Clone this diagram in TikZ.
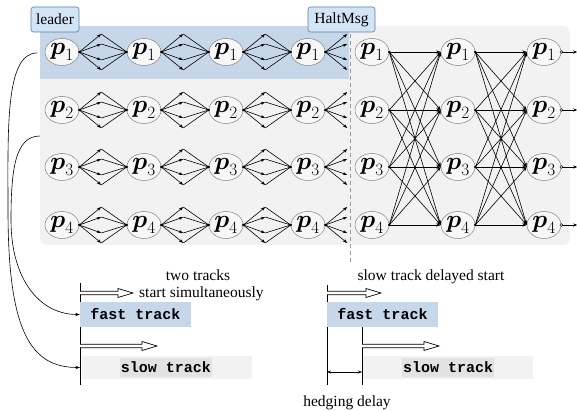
\documentclass[tikz,border=0pt]{standalone}
\usepackage{fontspec}
\usepackage{amsmath}
\setmainfont{Liberation Serif}
\setmonofont{Liberation Mono}
\usetikzlibrary{arrows.meta,shapes.geometric,calc}
\definecolor{bandblue}{HTML}{C7D7EA}
\definecolor{tagblue}{HTML}{D2E4F5}
\definecolor{tagedge}{HTML}{5E7EA0}
\definecolor{bggray}{HTML}{F2F2F2}
\definecolor{hlgray}{HTML}{E2E2E2}
\newcommand{\harrow}[3]{%
  \draw[fill=white,line width=0.7pt] (#1,#2-1.7) -- (#3-15,#2-1.7) -- (#3-15,#2-4.5) -- (#3,#2) -- (#3-15,#2+4.5) -- (#3-15,#2+1.7) -- (#1,#2+1.7);}
\begin{document}
\begin{tikzpicture}[x=1pt,y=-1pt,
  proc/.style={ellipse, draw=black!50, fill=black!3, line width=0.5pt, minimum width=34pt, minimum height=27pt, inner sep=0pt, font=\fontsize{24}{26}\selectfont},
  tag/.style={draw=tagedge, fill=tagblue, rounded corners=2.5pt, line width=0.6pt, inner sep=0pt, minimum height=25pt, font=\fontsize{15.5}{17}\selectfont},
  arr/.style={line width=0.6pt, -{Stealth[length=4.5pt,width=3.2pt]}},
  thinline/.style={line width=0.6pt},
  lbl/.style={font=\fontsize{15.5}{17}\selectfont, inner sep=0pt},
  trackbox/.style={inner sep=0pt, font=\fontsize{15}{17}\selectfont\ttfamily\bfseries},
  curv/.style={line width=0.6pt, -{Stealth[length=4.5pt,width=3.2pt]}}
]
\useasboundingbox (0,0) rectangle (577,411);
% backgrounds
\fill[bggray, rounded corners=7pt] (40,26) rectangle (570,245);
\fill[bandblue] (40,26) rectangle (349,79);
\draw[black!40, line width=1pt, dash pattern=on 4pt off 3pt] (350,27) -- (350,263);
% tags
\node[tag, minimum width=48pt] (leader) at (55,19.5) {leader};
\node[tag, minimum width=67pt] (halt) at (341.5,19.5) {HaltMsg};
% nodes
\foreach \r/\y in {1/52,2/110,3/167,4/225}{
  \foreach \c/\x in {1/62,2/144,3/226,4/308}{
    \node[proc] (L\c\r) at (\x,\y) {$\boldsymbol{p}_{\r}$};
  }
  \foreach \c/\x in {1/372,2/458,3/544}{
    \node[proc] (R\c\r) at (\x,\y) {$\boldsymbol{p}_{\r}$};
  }
}
% fans in the left part
\foreach \r in {1,2,3,4}{
  \foreach \c in {1,2,3,4}{
    \fill (L\c\r.east) circle (1.3pt);
    \foreach \d in {-18,-8,8,18}{
      \draw[arr] (L\c\r.east) -- ($(L\c\r.east)+(22,\d)$) coordinate (F\c\r\d);
    }
  }
  \foreach \c in {1,2,3}{
    \pgfmathtruncatemacro{\n}{\c+1}
    \fill (L\n\r.west) circle (1.3pt);
    \foreach \d in {-18,-8,8,18}{
      \draw[thinline] (F\c\r\d) -- (L\n\r.west);
    }
  }
}
% all-to-all in the right part
\foreach \c in {1,2}{
  \pgfmathtruncatemacro{\n}{\c+1}
  \foreach \r in {1,2,3,4}{
    \fill (R\c\r.east) circle (1.3pt);
    \foreach \s in {1,2,3,4}{
      \draw[arr] (R\c\r.east) -- (R\n\s.west);
    }
  }
}
\foreach \r in {1,2,3,4}{
  \coordinate (out\r) at ($(R3\r.east)+(16,0)$);
  \draw[line width=0.6pt, -{Stealth[length=4pt,width=3pt]}] (R3\r.east) -- (out\r);
  \draw[line width=0.5pt, fill=white] (R3\r.east) circle (1.4pt);
}
% lower left: two tracks start simultaneously
\coordinate (va1) at (80,283); \coordinate (va2) at (80,385);
\draw[thinline] (va1) -- (va2);
\node[trackbox, fill=bandblue, minimum width=111pt, minimum height=25pt] (fast1) at (135.5,314.5) {fast track};
\node[trackbox, fill=bggray, minimum width=170pt, minimum height=23pt] (slow1) at (167,367.5) {};
\node[trackbox, fill=hlgray, minimum width=92pt, minimum height=19pt] (slowt1) at (166,367.5) {slow track};
\harrow{80}{293}{133}
\harrow{80}{346}{157}
\node[lbl] (tt1) at (198,275) {two tracks};
\node[lbl, anchor=west] (tt2) at (139,294) {start simultaneously};
% curves from the group to the tracks
\coordinate (cA) at (37,53);
\coordinate (cB) at (40,136);
\coordinate (endA) at (80,367.5);
\draw[curv] (cA) .. controls (5,53) and (8,130) .. (8,210) .. controls (8,330) and (30,367.5) .. (endA);
\draw[curv] (cB) .. controls (15,136) and (11,170) .. (11,220) .. controls (11,280) and (40,314.5) .. (fast1.west);
% lower right: delayed start
\coordinate (vb1) at (327,285); \coordinate (vb2) at (327,385);
\coordinate (vc1) at (362,327); \coordinate (vc2) at (362,385);
\draw[thinline] (vb1) -- (vb2);
\draw[thinline] (vc1) -- (vc2);
\node[trackbox, fill=bandblue, minimum width=111pt, minimum height=25pt] (fast2) at (382.5,314.5) {fast track};
\node[trackbox, fill=bggray, minimum width=170pt, minimum height=23pt] (slow2) at (448,367.5) {};
\node[trackbox, fill=hlgray, minimum width=92pt, minimum height=19pt] (slowt2) at (448,367.5) {slow track};
\harrow{327}{293}{381}
\harrow{362}{346}{439}
\coordinate (h1) at (327,372); \coordinate (h2) at (362,372);
\draw[line width=0.6pt, {Stealth[length=4pt,width=3pt]}-{Stealth[length=4pt,width=3pt]}] (h1) -- (h2);
\node[lbl] (sd) at (431,277) {slow track delayed start};
\node[lbl] (hd) at (347,403) {hedging delay};
\end{tikzpicture}
\end{document}
